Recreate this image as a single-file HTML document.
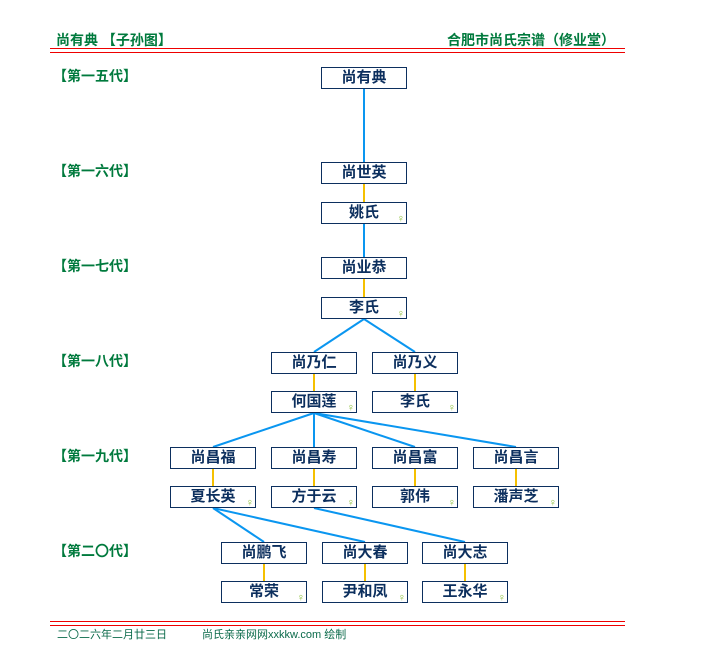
<!DOCTYPE html>
<html><head><meta charset="utf-8"><style>
body{margin:0;width:724px;height:670px;background:#fff;position:relative;overflow:hidden;font-family:"Liberation Sans","Noto Sans CJK SC","WenQuanYi Zen Hei",sans-serif}
.t{position:absolute;color:#007a3d;font-weight:bold;font-size:14px;white-space:nowrap}
.g{position:absolute;color:#007a3d;font-weight:bold;font-size:14px;left:53px}
.b{position:absolute;width:84px;height:20px;border:1px solid #0c2f5e;background:#fff;color:#0c2f5e;font-weight:bold;font-size:15px;text-align:center;line-height:20px}
.b i{position:absolute;right:1px;bottom:-2px;font-style:normal;font-weight:normal;font-size:11px;line-height:11px;color:#8dbf3c}
.hl{position:absolute;left:50px;width:575px;height:1px;background:#e00}
.f{position:absolute;top:626px;font-size:11px;color:#0a6a4a;white-space:nowrap}
svg{position:absolute;left:0;top:0}
</style></head><body>
<div class="t" style="left:56px;top:30px">尚有典 【子孙图】</div>
<div class="t" style="left:447px;top:30px">合肥市尚氏宗谱（修业堂）</div>
<div class="hl" style="top:48px"></div><div class="hl" style="top:52px"></div>
<div class="hl" style="top:621px"></div><div class="hl" style="top:625px"></div>
<div class="f" style="left:57px">二〇二六年二月廿三日</div>
<div class="f" style="left:202px">尚氏亲亲网网xxkkw.com 绘制</div>

<div class="g" style="top:66px">【第一五代】</div>
<div class="g" style="top:161px">【第一六代】</div>
<div class="g" style="top:256px">【第一七代】</div>
<div class="g" style="top:351px">【第一八代】</div>
<div class="g" style="top:446px">【第一九代】</div>
<div class="g" style="top:541px">【第二〇代】</div>

<svg width="724" height="670">
<g stroke="#0a96f0" stroke-width="2" fill="none">
<line x1="364" y1="89" x2="364" y2="162"/>
<line x1="364" y1="224" x2="364" y2="257"/>
<line x1="364" y1="319" x2="314" y2="352"/>
<line x1="364" y1="319" x2="415" y2="352"/>
<line x1="314" y1="413" x2="213" y2="447"/>
<line x1="314" y1="413" x2="314" y2="447"/>
<line x1="314" y1="413" x2="415" y2="447"/>
<line x1="314" y1="413" x2="516" y2="447"/>
<line x1="213" y1="508" x2="264" y2="542"/>
<line x1="213" y1="508" x2="365" y2="542"/>
<line x1="314" y1="508" x2="465" y2="542"/>
</g>
<g stroke="#f5c000" stroke-width="2">
<line x1="364" y1="184" x2="364" y2="202"/>
<line x1="364" y1="279" x2="364" y2="297"/>
<line x1="314" y1="374" x2="314" y2="391"/>
<line x1="415" y1="374" x2="415" y2="391"/>
<line x1="213" y1="469" x2="213" y2="486"/>
<line x1="314" y1="469" x2="314" y2="486"/>
<line x1="415" y1="469" x2="415" y2="486"/>
<line x1="516" y1="469" x2="516" y2="486"/>
<line x1="264" y1="564" x2="264" y2="581"/>
<line x1="365" y1="564" x2="365" y2="581"/>
<line x1="465" y1="564" x2="465" y2="581"/>
</g>
</svg>

<div class="b" style="left:321px;top:67px">尚有典</div>
<div class="b" style="left:321px;top:162px">尚世英</div>
<div class="b" style="left:321px;top:202px">姚氏<i>♀</i></div>
<div class="b" style="left:321px;top:257px">尚业恭</div>
<div class="b" style="left:321px;top:297px">李氏<i>♀</i></div>
<div class="b" style="left:271px;top:352px">尚乃仁</div>
<div class="b" style="left:372px;top:352px">尚乃义</div>
<div class="b" style="left:271px;top:391px">何国莲<i>♀</i></div>
<div class="b" style="left:372px;top:391px">李氏<i>♀</i></div>
<div class="b" style="left:170px;top:447px">尚昌福</div>
<div class="b" style="left:271px;top:447px">尚昌寿</div>
<div class="b" style="left:372px;top:447px">尚昌富</div>
<div class="b" style="left:473px;top:447px">尚昌言</div>
<div class="b" style="left:170px;top:486px">夏长英<i>♀</i></div>
<div class="b" style="left:271px;top:486px">方于云<i>♀</i></div>
<div class="b" style="left:372px;top:486px">郭伟<i>♀</i></div>
<div class="b" style="left:473px;top:486px">潘声芝<i>♀</i></div>
<div class="b" style="left:221px;top:542px">尚鹏飞</div>
<div class="b" style="left:322px;top:542px">尚大春</div>
<div class="b" style="left:422px;top:542px">尚大志</div>
<div class="b" style="left:221px;top:581px">常荣<i>♀</i></div>
<div class="b" style="left:322px;top:581px">尹和凤<i>♀</i></div>
<div class="b" style="left:422px;top:581px">王永华<i>♀</i></div>
</body></html>
